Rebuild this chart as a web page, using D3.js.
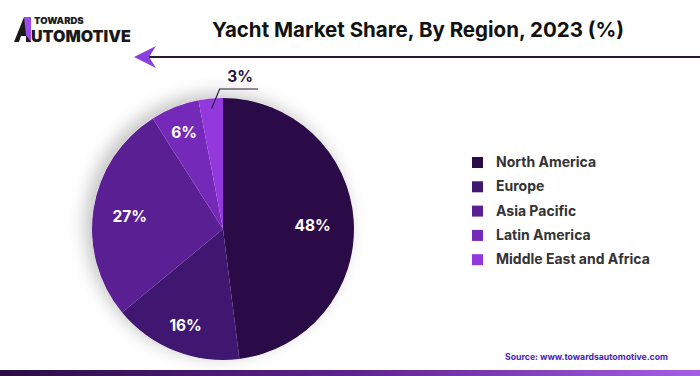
<!DOCTYPE html>
<html>
<head>
<meta charset="utf-8">
<script src="https://cdn.jsdelivr.net/npm/d3@7"></script>
<style>
  body { margin: 0; background: #fff; }
  svg { display: block; font-family: Inter, "Open Sans", sans-serif; }
</style>
</head>
<body>
<svg id="chart"></svg>
<script>
// Data
let regions = ["North America", "Europe", "Asia Pacific", "Latin America", "Middle East and Africa"];
let shares = [48, 16, 27, 6, 3];
let colors = ["#2b0b47", "#3f1670", "#5b1f94", "#7429b8", "#9238dc"];

let width = 700, height = 376;
let svg = d3.select("#chart")
  .attr("width", width)
  .attr("height", height);

let defs = svg.append("defs");
let grad = defs.append("linearGradient").attr("id", "barGrad");
grad.append("stop").attr("offset", "0%").attr("stop-color", "#2a0d45");
grad.append("stop").attr("offset", "50%").attr("stop-color", "#5d2290");
grad.append("stop").attr("offset", "100%").attr("stop-color", "#a45fe2");

let shadow = defs.append("filter").attr("id", "shadow")
  .attr("x", "-30%").attr("y", "-30%").attr("width", "160%").attr("height", "160%");
shadow.append("feGaussianBlur").attr("in", "SourceAlpha").attr("stdDeviation", 9);
shadow.append("feOffset").attr("dx", -6).attr("dy", -4).attr("result", "blur");
shadow.append("feComponentTransfer").append("feFuncA").attr("type", "linear").attr("slope", 0.25);
let merge = shadow.append("feMerge");
merge.append("feMergeNode");
merge.append("feMergeNode").attr("in", "SourceGraphic");

// Logo
let logo = svg.append("g").attr("transform", "translate(14, 16)");
logo.append("path").attr("d", "M0,26 L10,1 L17,1 L17,26 L12,26 L12,20 L7,20 L5,26 Z").attr("fill", "#1a1a1a");
logo.append("path").attr("d", "M10,1 L17,1 L17,26 L12,19 Z").attr("fill", "#9a4be8");
logo.append("text").attr("x", 20).attr("y", 7.5)
  .text("TOWARDS")
  .attr("font-size", 9.5).attr("font-weight", 900).attr("fill", "#1a1a1a");
logo.append("text").attr("x", 17).attr("y", 26)
  .text("UTOMOTIVE")
  .attr("font-size", 16).attr("font-weight", 900).attr("fill", "#1a1a1a");

// Title
svg.append("text")
  .attr("x", 418).attr("y", 37)
  .attr("text-anchor", "middle")
  .attr("font-size", 20.5).attr("font-weight", 700)
  .attr("fill", "#111")
  .text("Yacht Market Share, By Region, 2023 (%)");

// Arrow line
svg.append("line")
  .attr("x1", 140).attr("y1", 57).attr("x2", 700).attr("y2", 57)
  .attr("stroke", "#2a1a38").attr("stroke-width", 2);
svg.append("path")
  .attr("d", "M134,57 L156,46 L149,57 L156,68 Z")
  .attr("fill", "#8a3fe0");

// Pie
let cx = 223, cy = 229, r = 131;
let pie = d3.pie().sort(null).value(d => d)(shares);
let arc = d3.arc().innerRadius(0).outerRadius(r);

let pg = svg.append("g").attr("transform", `translate(${cx}, ${cy})`);
pg.append("circle").attr("r", r).attr("fill", "#fff").attr("filter", "url(#shadow)");
pg.selectAll("path.slice")
  .data(pie)
  .join("path")
  .attr("class", "slice")
  .attr("d", arc)
  .attr("fill", (d, i) => colors[i]);

let labelR = [0.685, 0.775, 0.72, 0.805];
pg.selectAll("text.lbl")
  .data(pie.filter((d, i) => i < 4))
  .join("text")
  .attr("class", "lbl")
  .attr("transform", (d, i) => {
    let a = (d.startAngle + d.endAngle) / 2;
    let rr = r * labelR[i];
    return `translate(${rr * Math.sin(a)}, ${-rr * Math.cos(a) + 2})`;
  })
  .attr("text-anchor", "middle")
  .attr("dy", "0.35em")
  .attr("font-size", 15.5).attr("font-weight", 700)
  .attr("fill", "#fff")
  .text(d => d.value + "%");

// Leader for small slice
let last = pie[4];
let am = (last.startAngle + last.endAngle) / 2;
let p0 = [cx + (r - 10) * Math.sin(am), cy - (r - 10) * Math.cos(am)];
svg.append("polyline")
  .attr("points", `${p0[0]},${p0[1]} ${p0[0] + 8},89 258,89`)
  .attr("fill", "none").attr("stroke", "#2a1a38").attr("stroke-width", 1.2);
svg.append("text")
  .attr("x", 240).attr("y", 82)
  .attr("text-anchor", "middle")
  .attr("font-size", 15.5).attr("font-weight", 700)
  .attr("fill", "#2a1245")
  .text(last.value + "%");

// Legend
let lg = svg.append("g");
let rows = lg.selectAll("g")
  .data(regions)
  .join("g")
  .attr("transform", (d, i) => `translate(472, ${162 + i * 24.3})`);
rows.append("rect")
  .attr("x", 0).attr("y", -5).attr("width", 11).attr("height", 11)
  .attr("fill", (d, i) => colors[i]);
rows.append("text")
  .attr("x", 24).attr("y", 0).attr("dy", "0.35em")
  .attr("font-size", 14).attr("font-weight", 700)
  .attr("fill", "#333")
  .text(d => d);

// Source
svg.append("text")
  .attr("x", 668).attr("y", 360)
  .attr("text-anchor", "end")
  .attr("font-size", 8.7).attr("font-weight", 700)
  .attr("fill", "#4a22b8")
  .text("Source: www.towardsautomotive.com");

// Bottom bar
svg.append("rect")
  .attr("x", 0).attr("y", 370).attr("width", width).attr("height", 6)
  .attr("fill", "url(#barGrad)");
</script>
</body>
</html>
